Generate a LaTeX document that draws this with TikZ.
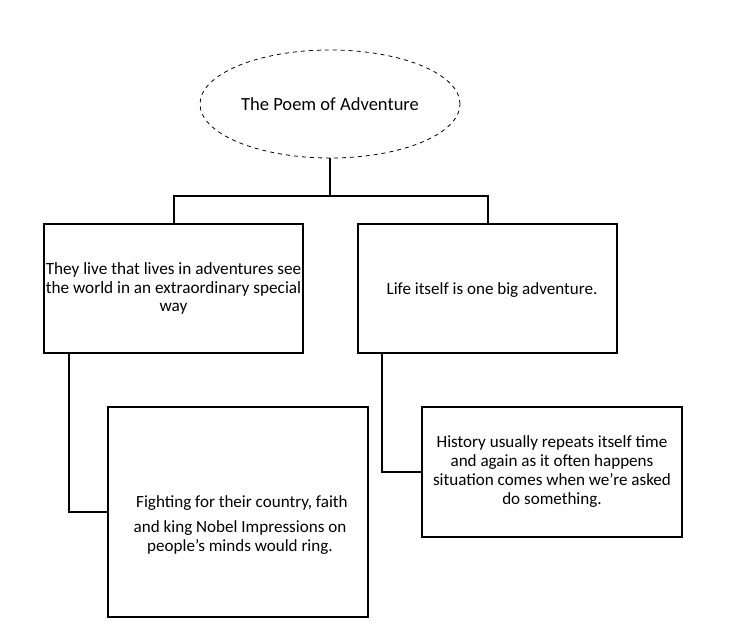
\documentclass[tikz,border=0pt]{standalone}
\usepackage{fontspec}
\setmainfont{Carlito}
\usetikzlibrary{shapes.geometric}
\begin{document}
\begin{tikzpicture}[x=0.75pt,y=-0.75pt,
  txt/.style={align=center,inner sep=0pt,font=\fontsize{12.8pt}{14.25pt}\selectfont},
  boxnode/.style={draw,line width=1.5pt,inner sep=0pt,minimum width=#1},
  conn/.style={line width=1.5pt},
  title/.style={draw,dashed,ellipse,line width=0.6pt,inner sep=0pt,minimum width=195pt,minimum height=81pt}]
\useasboundingbox (0,0) rectangle (732,630);
\node[title] (t) at (330,104) {};
\node[txt,font=\fontsize{13.9pt}{16pt}\selectfont] (tt) at (330,104) {The Poem of Adventure};
\node[boxnode=194.25pt,minimum height=96.75pt] (b1) at (173.5,288.5) {};
\node[txt,font=\fontsize{12.9pt}{14pt}\selectfont] (t1) at (173.5,288.5) {They live that lives in adventures see\\the world in an extraordinary special\\way};
\node[boxnode=194.25pt,minimum height=96.75pt] (b2) at (487.5,288.5) {};
\node[txt] (t2) at (492,290) {Life itself is one big adventure.};
\node[boxnode=195pt,minimum height=157.5pt] (b3) at (238,512) {};
\node[txt] (t3) at (240,525) {\ Fighting for their country, faith\\[5pt]and king Nobel Impressions on\\people's minds would ring.};
\node[boxnode=195pt,minimum height=97.5pt] (b4) at (552,472) {};
\node[txt] (t4) at (552,471.5) {History usually repeats itself time\\and again as it often happens\\situation comes when we’re asked\\do something.};
\coordinate (fork) at (330,196);
\draw[conn] (t.south) -- (fork);
\draw[conn] (b1.north) |- (fork) -| (b2.north);
\draw[conn] ([xshift=19.5pt]b1.south west) |- (b3.west);
\draw[conn] ([xshift=18.75pt]b2.south west) |- (b4.west);
\end{tikzpicture}
\end{document}
